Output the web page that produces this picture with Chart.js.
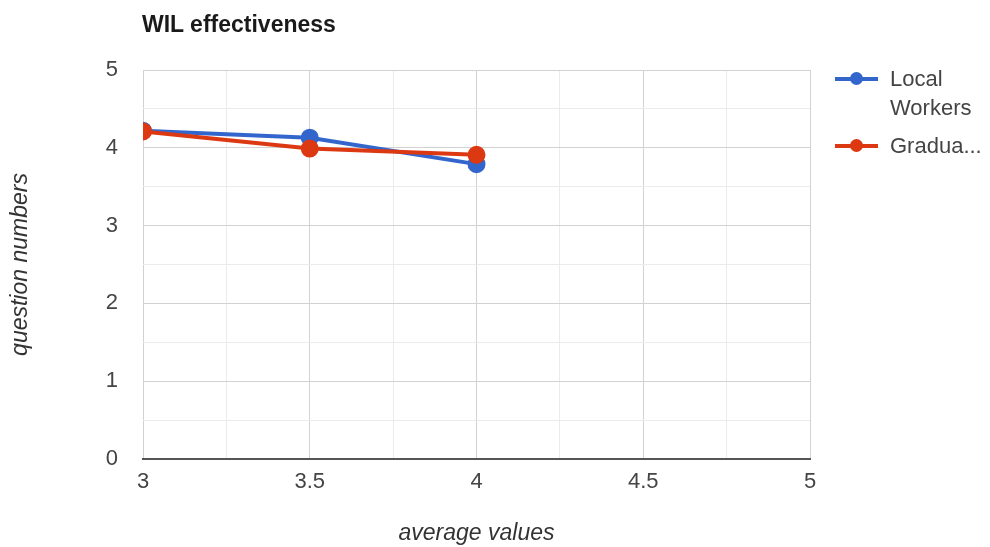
<!DOCTYPE html>
<html>
<head>
<meta charset="utf-8">
<script src="https://cdn.jsdelivr.net/npm/chart.js@4/dist/chart.umd.min.js"></script>
<style>
  html, body { margin: 0; padding: 0; background: #fff; }
  #wrap { position: relative; width: 990px; height: 547px; font-family: "Liberation Sans", Arial, sans-serif; }
  #title { position: absolute; left: 142px; top: 11px; font-size: 23px; font-weight: bold; color: #1a1a1a; }
  #legend { position: absolute; left: 835px; top: 64px; font-size: 22px; color: #444; }
  .item { position: relative; padding-left: 55px; line-height: 29px; margin-bottom: 9px; }
  .item .ln { position: absolute; left: 0; top: 13px; width: 43px; height: 4px; }
  .item .dot { position: absolute; left: 15px; top: 8px; width: 13px; height: 13px; border-radius: 50%; }
</style>
</head>
<body>
<div id="wrap">
  <canvas id="wil" width="990" height="547"></canvas>
  <div id="title">WIL effectiveness</div>
  <div id="legend"></div>
</div>
<script>
(function() {
    const xValues = [3, 3.5, 4];
    const localWorkers = [4.22, 4.13, 3.79];
    const graduates = [4.21, 3.99, 3.91];
    const seriesNames = ['Local Workers', 'Gradua...'];
    const colors = ['#3366cc', '#dc3912'];

    const toPoints = ys => xValues.map((x, i) => ({ x: x, y: ys[i] }));

    // legend as html so the long label can wrap like the original
    const legend = document.getElementById('legend');
    seriesNames.forEach((name, i) => {
        const item = document.createElement('div');
        item.className = 'item';
        item.innerHTML = '<span class="ln" style="background:' + colors[i] + '"></span>' +
            '<span class="dot" style="background:' + colors[i] + '"></span>' +
            (i === 0 ? 'Local<br>Workers' : name);
        legend.appendChild(item);
    });

    const tickFont = { family: '"Liberation Sans", Arial, sans-serif', size: 22 };
    const titleFont = { family: '"Liberation Sans", Arial, sans-serif', size: 23, style: 'italic' };

    new Chart(document.getElementById('wil'), {
        type: 'line',
        data: {
            datasets: [
                {
                    label: seriesNames[0],
                    data: toPoints(localWorkers),
                    borderColor: colors[0],
                    backgroundColor: colors[0],
                    borderWidth: 4,
                    pointRadius: 7,
                    pointHoverRadius: 7,
                    order: 1
                },
                {
                    label: seriesNames[1],
                    data: toPoints(graduates),
                    borderColor: colors[1],
                    backgroundColor: colors[1],
                    borderWidth: 4,
                    pointRadius: 7,
                    pointHoverRadius: 7,
                    order: 0
                }
            ]
        },
        options: {
            responsive: false,
            animation: false,
            layout: { padding: { top: 70, right: 180, left: 0, bottom: 0 } },
            plugins: {
                legend: { display: false },
                tooltip: { enabled: false }
            },
            scales: {
                x: {
                    type: 'linear',
                    min: 3,
                    max: 5,
                    afterFit: scale => { scale.height = 88; },
                    ticks: {
                        stepSize: 0.25,
                        color: '#444',
                        font: tickFont,
                        padding: 10,
                        maxRotation: 0,
                        autoSkip: false,
                        callback: v => (v * 2) % 1 === 0 ? String(v) : ''
                    },
                    grid: {
                        drawTicks: false,
                        color: ctx => (ctx.tick && (ctx.tick.value * 2) % 1 === 0) ? '#d2d2d2' : '#ebebeb'
                    },
                    border: { display: true, color: '#555', width: 2 },
                    title: {
                        display: true,
                        text: 'average values',
                        color: '#333',
                        font: titleFont,
                        padding: { top: 0, bottom: 0 }
                    }
                },
                y: {
                    min: 0,
                    max: 5,
                    afterFit: scale => { scale.width = 143; },
                    ticks: {
                        stepSize: 0.5,
                        color: '#444',
                        font: tickFont,
                        padding: 25,
                        autoSkip: false,
                        callback: v => v % 1 === 0 ? String(v) : ''
                    },
                    grid: {
                        drawTicks: false,
                        color: ctx => (ctx.tick && ctx.tick.value % 1 === 0) ? '#d2d2d2' : '#ebebeb'
                    },
                    border: { display: false },
                    title: {
                        display: true,
                        text: 'question numbers',
                        color: '#333',
                        font: titleFont,
                        padding: { top: 7, bottom: 0 }
                    }
                }
            }
        }
    });
})();
</script>
</body>
</html>
